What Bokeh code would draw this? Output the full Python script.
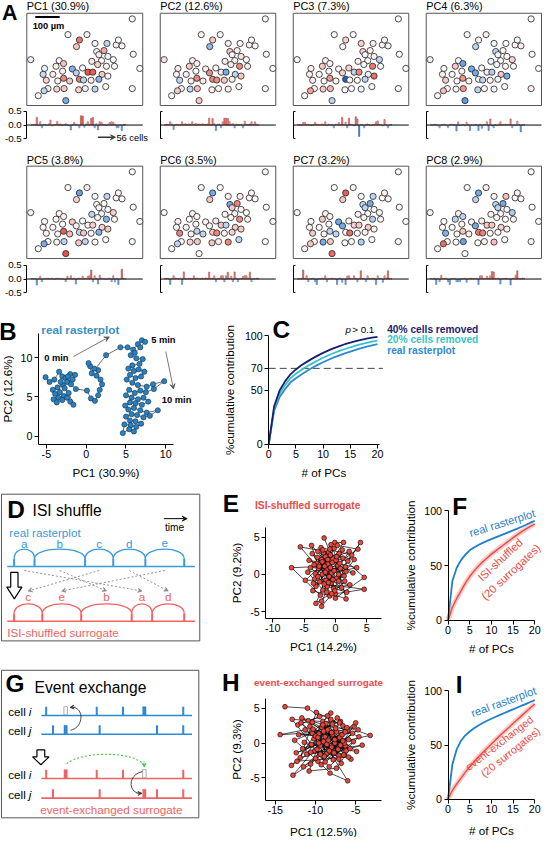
import numpy as np
from bokeh.plotting import figure
from bokeh.layouts import row, column
from bokeh.models import (Range1d, Label, Arrow, VeeHead, FixedTicker, LinearAxis,
                          LinearColorMapper, NumeralTickFormatter, ColumnDataSource)
from bokeh.transform import transform
from bokeh.embed import file_html
from bokeh.resources import INLINE

# ============================ DATA ============================
# Panel A: cell positions (um) and loadings of each cell on PC1..PC8
cell_x_um = [433, 169, 247, 216, 280, 204, 329, 367, 391, 376,
             287, 317, 16, 437, 133, 151, 120, 296, 333, 307,
             267, 355, 73, 187, 229, 291, 327, 464, 203, 251,
             271, 67, 107, 309, 333, 151, 216, 233, 264, 296,
             176, 80, 127, 324, 433, 87, 123, 153, 213, 240,
             280, 71, 47, 160, 360, 147]
cell_y_um = [353, 289, 289, 267, 253, 240, 253, 247, 243, 267,
             220, 224, 187, 209, 183, 171, 160, 207, 200, 183,
             180, 187, 151, 149, 153, 167, 160, 151, 133, 136,
             136, 127, 127, 127, 120, 111, 107, 104, 103, 107,
             100, 103, 100, 77, 69, 69, 67, 69, 64, 69,
             67, 60, 40, 20, 160, 140]
pc_var = [30.9, 12.6, 7.3, 6.3, 3.8, 3.5, 3.2, 2.9]
load_pc1 = [0.02, 0.01, 0.03, 0.28, -0.02, 0.12, -0.10, 0.03, 0.02, -0.01, 0.04, 0.18, -0.03, 0.01, 0.02, 0.13, 0.03, 0.04, -0.02, 0.02,
            0.05, 0.01, -0.03, -0.18, 0.02, 0.10, 0.03, 0.01, -0.10, 0.34, 0.33, -0.08, 0.04, 0.12, 0.02, 0.25, 0.28, -0.10, 0.05, -0.18,
            0.12, 0.10, 0.03, 0.02, -0.02, 0.04, 0.10, 0.12, 0.10, 0.03, -0.10, -0.10, 0.01, -0.20, 0.02, 0.03]
load_pc2 = [0.02, 0.03, 0.01, 0.12, 0.04, -0.16, 0.02, 0.03, 0.01, 0.02, 0.12, 0.03, 0.05, 0.02, 0.04, 0.03, 0.12, 0.02, 0.06, 0.03,
            0.04, 0.02, 0.05, 0.03, 0.02, 0.04, 0.25, 0.01, 0.24, 0.05, -0.20, 0.03, 0.04, -0.10, 0.12, 0.25, 0.25, 0.24, 0.12, 0.03,
            0.05, -0.10, 0.04, 0.02, 0.01, 0.03, -0.10, 0.14, 0.03, 0.02, 0.04, 0.12, 0.02, 0.12, 0.03, 0.01]
load_pc3 = [0.01, 0.02, -0.01, 0.10, 0.10, 0.02, 0.03, 0.01, -0.02, 0.02, 0.10, 0.03, 0.02, 0.01, 0.04, 0.02, 0.12, -0.02, 0.03, 0.01,
            0.02, -0.10, 0.03, 0.02, 0.10, 0.01, 0.28, 0.02, 0.10, -0.10, 0.25, 0.03, 0.02, -0.03, 0.30, 0.22, -0.42, 0.02, 0.01, -0.10,
            0.03, 0.04, 0.02, -0.02, 0.01, 0.03, 0.12, 0.15, 0.02, 0.01, -0.03, 0.20, 0.02, -0.10, 0.01, 0.02]
load_pc4 = [0.02, 0.01, 0.03, 0.02, -0.02, -0.10, 0.01, 0.02, 0.03, -0.01, -0.10, 0.02, 0.03, 0.01, 0.02, -0.22, 0.12, -0.02, 0.01, 0.02,
            -0.03, 0.10, 0.02, -0.20, 0.01, -0.02, 0.02, 0.01, -0.20, 0.03, -0.12, 0.02, 0.01, 0.12, -0.20, 0.22, -0.03, -0.10, 0.02, -0.02,
            0.03, 0.12, 0.01, 0.02, 0.03, 0.01, 0.02, 0.22, -0.10, 0.01, -0.02, 0.14, 0.02, -0.25, 0.01, 0.02]
load_pc5 = [0.02, 0.01, 0.02, -0.22, 0.01, 0.10, -0.10, 0.02, 0.01, 0.03, 0.02, 0.01, 0.03, -0.01, 0.02, 0.03, 0.02, 0.01, 0.02, -0.02,
            -0.10, 0.10, 0.02, 0.12, 0.01, 0.03, -0.18, 0.02, 0.03, 0.02, 0.10, 0.01, 0.02, 0.10, 0.12, 0.33, -0.10, 0.12, 0.02, -0.18,
            0.14, 0.03, 0.02, 0.01, -0.02, 0.02, 0.03, -0.10, 0.12, -0.10, 0.02, -0.20, 0.01, 0.36, 0.02, 0.01]
load_pc6 = [0.02, 0.03, 0.01, -0.20, 0.02, 0.12, 0.03, 0.02, 0.01, 0.03, -0.20, 0.26, 0.02, 0.01, 0.03, 0.02, 0.01, 0.12, 0.02, 0.03,
            0.02, 0.01, 0.03, 0.02, 0.04, 0.02, 0.25, 0.01, 0.03, 0.12, -0.10, 0.02, 0.03, 0.12, 0.12, -0.10, 0.12, 0.25, 0.02, 0.10,
            -0.10, 0.26, 0.03, -0.10, 0.01, 0.02, 0.10, 0.12, 0.12, 0.03, 0.25, -0.10, 0.02, 0.01, 0.03, 0.02]
load_pc7 = [0.02, 0.01, 0.03, 0.33, 0.02, 0.12, -0.10, 0.01, 0.02, 0.03, -0.10, -0.20, 0.02, 0.01, 0.03, 0.02, 0.12, -0.10, 0.02, 0.01,
            0.03, 0.02, 0.01, -0.20, 0.02, 0.03, -0.12, 0.01, -0.20, 0.10, 0.12, 0.02, 0.01, 0.12, 0.03, -0.10, 0.02, 0.30, 0.01, 0.03,
            -0.10, 0.12, 0.02, 0.01, 0.03, 0.02, -0.20, 0.12, 0.01, 0.02, -0.12, 0.12, 0.03, 0.30, 0.02, 0.01]
load_pc8 = [0.02, 0.01, 0.03, -0.20, 0.02, -0.10, 0.14, 0.01, 0.02, 0.03, -0.10, -0.20, 0.02, 0.01, 0.03, -0.10, -0.10, -0.10, 0.02, 0.01,
            0.03, -0.12, 0.01, 0.02, 0.03, 0.02, 0.01, 0.02, -0.20, 0.12, 0.12, 0.01, 0.02, 0.10, 0.03, 0.12, 0.28, 0.26, 0.02, 0.01,
            0.03, -0.18, 0.02, 0.01, 0.03, 0.02, 0.01, -0.22, 0.02, 0.03, 0.14, 0.30, 0.02, 0.01, 0.03, 0.02]
loadings = [load_pc1, load_pc2, load_pc3, load_pc4, load_pc5, load_pc6, load_pc7, load_pc8]
scale_bar_um = 100

# Panel B: trajectory of the real rasterplot in PC1/PC2 space
traj_pc1 = [-5.1, -4.6, -4.0, -3.4, -3.0, -2.6, -2.0, -1.4, -1.7, -2.4, -2.9, -3.6, -4.2, -3.9, -3.3, -2.8, -3.5, -4.1, -3.7, -3.0,
            -2.4, -2.0, -1.6, -2.2, -2.7, -3.2, -2.3, -1.9, -1.3,
            0.1, 0.6, 1.1, 1.5, 1.7, 2.0, 1.8, 1.3, 1.5, 1.0, 0.5, 0.3, 0.7, 2.5, 4.3,
            5.2, 5.9, 6.5, 7.0, 7.4, 6.8, 6.1, 5.6, 6.3, 7.1, 6.7, 5.8, 5.3, 6.0, 6.6, 7.3, 6.9, 6.2, 5.5, 5.1,
            5.8, 6.5, 7.6, 8.4, 9.8, 8.5, 7.5, 6.8, 6.1, 5.4, 5.0, 5.7, 6.5, 7.2, 7.8, 7.0, 6.2, 5.5, 4.9, 5.3,
            6.0, 6.8, 7.6, 9.0, 8.0, 7.2, 6.4, 5.7, 5.0, 5.5, 6.2, 6.9, 6.3, 5.6, 4.8, 4.6, 5.4, 6.0]
traj_pc2 = [7.5, 6.9, 7.2, 8.2, 7.6, 7.4, 7.9, 7.8, 7.2, 6.9, 6.5, 6.2, 5.9, 5.4, 5.6, 5.1, 4.9, 4.7, 4.3, 4.6,
            4.9, 4.4, 4.0, 5.5, 6.1, 6.9, 7.6, 6.6, 6.0,
            5.8, 4.8, 4.5, 5.2, 5.9, 6.6, 7.2, 7.7, 8.4, 8.6, 8.9, 9.3, 8.0, 10.3, 11.3,
            11.3, 11.0, 11.7, 12.2, 12.0, 11.3, 10.6, 10.3, 9.9, 9.8, 9.2, 9.0, 8.6, 8.3, 8.5, 8.2, 7.6, 7.4, 7.8, 7.2,
            6.8, 6.5, 6.3, 6.6, 7.0, 6.0, 5.6, 5.8, 5.5, 5.9, 5.2, 4.9, 4.7, 4.9, 4.4, 4.0, 4.2, 4.3, 3.9, 3.4,
            3.6, 3.3, 3.0, 3.3, 2.6, 2.4, 2.7, 2.8, 2.5, 2.0, 1.9, 1.6, 1.2, 1.4, 1.5, 0.4, 0.9, 0.6]

# Panel C: cumulative contribution (%) vs number of PCs
n_pcs = list(range(0, 21))
cum_real = [0, 30.9, 43.5, 50.8, 57.1, 60.9, 64.4, 67.6, 70.5, 73.2, 75.7, 78.0, 80.1, 82.0, 83.8, 85.5, 87.1, 88.6, 90.0, 91.3, 92.5]
cum_20 = [0, 33.0, 46.5, 54.5, 61.0, 65.0, 68.5, 71.7, 74.6, 77.3, 79.8, 82.1, 84.2, 86.1, 87.9, 89.5, 91.0, 92.4, 93.6, 94.7, 95.6]
cum_40 = [0, 35.0, 49.5, 58.0, 64.5, 69.0, 72.8, 76.0, 79.0, 81.8, 84.3, 86.6, 88.7, 90.6, 92.3, 93.8, 95.2, 96.4, 97.5, 98.4, 99.2]
threshold = 70

# Panel D: ISI shuffle schematic
real_spikes = [14, 35, 87, 116, 149, 189]
isi_labels = ["a", "b", "c", "d", "e"]
shuffled_order = ["c", "e", "b", "a", "d"]

# Panel E: ISI-shuffled surrogate trajectory
isi_pc1 = [-1.8, -0.4, -3.0, -0.1, 1.3, -1.4, -3.7, -0.7, 2.6, -2.3, 0.4, -4.4, -2.0, 1.7, -1.1, -5.6, -2.7, 0.2, 4.0, 2.0,
           -1.6, -3.3, -0.2, -2.5, 1.0, -1.2, -4.2, -0.6, 3.4, -2.2, 0.6, -3.6, -0.9, 1.5, -2.1, 3.6, 0.3, -2.9, -0.3, 2.3,
           -1.5, -4.0, 0.8, -0.8, -2.4, -7.0, -1.7, 0.0, 4.6, 1.2, -2.8, -0.5, -1.3, 1.8, -3.4, 0.5, 3.0, -1.9, -1.0, -3.1,
           1.1, -0.2, -3.8, -1.4, 1.7, 0.1, -2.6, -0.7, 1.4, -1.8, 4.6, 0.0, -1.2, -4.8, -0.4, -2.2, -2.2, -0.1, -3.1, -0.8,
           2.8, 0.7, -2.0, -3.2, -0.6, 1.6, -1.6, -2.8, 0.2, 2.2, -1.1, -3.5, -2.1, 0.5, -0.9]
isi_pc2 = [4.9, 2.1, 1.5, 4.3, 4.3, 0.6, 2.8, -1.2, 2.6, 3.6, 1.2, 0.3, -2.1, 0.4, 3.0, 3.7, 0.8, -0.5, 4.3, 1.8,
           2.4, -0.6, 3.5, -1.0, -1.8, 1.4, 1.9, 0.2, 0.9, 2.0, 2.8, -2.2, -2.9, -0.9, 0.0, 3.4, 3.9, 2.3, -1.9, -1.4,
           -0.8, 0.9, 0.8, 2.6, -2.8, 0.9, 1.1, -3.2, -0.4, 2.2, 3.1, 1.6, -1.6, -2.4, 1.3, -0.9, 2.0, 2.9, -0.3, -1.6,
           3.3, 0.5, 3.9, -2.4, -3.3, 1.9, 1.1, 4.0, -0.2, -1.3, -2.0, -2.6, 2.0, -0.8, -0.7, -3.6, -4.3, -2.2, -3.9, 0.9,
           0.2, 1.5, 3.3, 0.1, -2.6, 1.0, 0.3, -0.3, 2.4, 3.1, -1.1, -1.2, 1.7, 0.0, 3.4]

# Panel F: cumulative contribution, real vs ISI-shuffled
F_real = [0, 36.0, 48.0, 55.0, 60.0, 64.0, 66.5, 68.8, 70.8, 72.6, 74.2, 75.8, 77.4, 79.0, 80.6, 82.2, 83.8, 85.5, 87.3, 89.2, 91.0]
F_shuffled = [0, 12.0, 20.0, 27.0, 34.0, 40.0, 45.0, 49.5, 53.5, 57.0, 60.5, 63.5, 66.5, 69.5, 72.5, 75.5, 78.3, 81.0, 83.5, 85.8, 88.0]

# Panel G: event exchange schematic
cell_i_spikes = [47, 99, 126, 148, 188]
cell_j_spikes = [54, 67, 102, 161, 188]
exch_from_i = 148
exch_from_j = 67

# Panel H: event-exchanged surrogate trajectory
ee_pc1 = [-13.8, -11.0, -9.5, -12.2, -8.1, -10.4, -6.9, -9.0, -11.6, -7.4, -5.2, -8.6, -10.9, -6.3, -9.7, -12.6, -7.9, -4.6, -8.3, -10.1,
          -6.0, -14.4, -11.3, -7.1, -9.2, -5.6, -8.8, -12.8, -10.6, -7.6, -3.2, -6.6, -9.9, -11.9, -8.0, -5.9, -9.4, -13.0, -7.3, -10.2,
          -6.8, -8.5, -4.9, -11.4, -7.8, -9.1, -6.2, -10.7, -8.9, -5.4, -12.1, -7.0, -9.6, -6.0, -8.2, -10.0, -7.5, -11.7, -6.4, -8.7,
          -9.8, -5.0, -7.2, -10.5, -8.4, -12.4, -6.7, -9.3, -7.7, -4.2, -11.1, -8.1, -6.1, -9.0, -10.8, -7.4, -5.7, -8.6, -11.8, -9.6,
          -6.5, -7.9, -10.3, -5.3, -8.8, -12.9, -7.0, -9.4, -6.3, -10.0, -8.3, -4.7, -11.5, -7.6, -9.1, -6.9, -8.0, -10.6, -5.9, -12.3,
          -8.5, -7.1, -9.7, -6.6, -10.4]
ee_pc2 = [5.2, 5.0, 3.8, 2.6, 4.3, 1.4, 3.1, 0.2, -0.8, 1.6, 2.4, -1.5, 3.2, -0.4, -2.6, 0.4, 2.7, 0.9, -3.4, -1.1,
          1.8, 1.2, 1.9, -1.8, 2.2, -2.3, 0.9, -4.6, -3.0, 0.0, 1.1, 2.5, 4.4, -2.1, -0.6, 0.5, -0.4, -3.2, 3.6, 0.6,
          -2.9, 1.9, -1.2, 0.1, -2.4, 3.1, -1.1, 2.4, -1.9, 1.4, 1.2, 0.8, 1.3, -5.4, -4.3, -2.2, 2.1, 3.6, 0.0, 2.8,
          -0.9, 2.9, -0.9, -0.2, 0.4, -1.4, 1.2, -3.1, -1.4, -0.3, -1.6, 3.4, 2.2, 1.7, -4.0, -3.6, -0.8, -0.2, 2.9, 0.0,
          -1.7, 1.2, 2.0, 0.2, -2.7, 3.4, 2.9, -1.6, 1.6, 1.0, -1.1, 1.9, -3.4, 0.5, 2.6, -0.3, 1.5, -1.3, -2.0, -2.6,
          3.9, -2.3, 0.8, 0.3, 3.0]

# Panel I: cumulative contribution, real vs event-exchanged
I_real = [0, 32.0, 46.0, 54.0, 59.0, 62.5, 65.5, 68.0, 70.3, 72.4, 74.3, 76.1, 77.9, 79.6, 81.3, 83.0, 84.7, 86.4, 88.1, 89.8, 91.5]
I_exchanged = [0, 8.0, 14.0, 19.5, 25.0, 30.0, 34.5, 39.0, 43.0, 47.0, 51.0, 55.0, 58.8, 62.5, 66.2, 70.0, 73.6, 77.2, 80.8, 84.4, 88.0]

# ============================ STYLE / LAYOUT ============================
SX = 542 / 558
SY = 837 / 853
FS = 0.975
FONT = "Liberation Sans"
BLUE = "#2f88d2"
BLUE_D = "#3a9ad9"
RED = "#ee4a44"
RED_D = "#f26262"
PT_RED = "#e8473e"
MAP_W, MAP_H = 476, 376      # extent of the imaged field (um)


def X(v):
    return int(round(v * SX))


def Y(v):
    return int(round(v * SY))


def fpx(n):
    return f"{n * FS:.1f}px"


class Panel:
    """Figure whose frame fills the whole canvas; 'frame'/'xr'/'yr' fix the data<->pixel mapping."""

    def __init__(self, box, frame, xr, yr):
        l, t, r, b = box
        self.frame, self.xr, self.yr = frame, xr, yr
        xs, ys = self.d(l, b)
        xe, ye = self.d(r, t)
        p = figure(width=X(r) - X(l), height=Y(b) - Y(t),
                   x_range=Range1d(xs, xe), y_range=Range1d(ys, ye),
                   x_axis_type=None, y_axis_type=None,
                   output_backend="svg", toolbar_location=None,
                   min_border_left=0, min_border_right=0, min_border_top=0, min_border_bottom=0)
        p.outline_line_color = None
        p.background_fill_color = "white"
        p.border_fill_color = "white"
        self.p = p

    def d(self, px, py):
        fl, ft, fr, fb = self.frame
        x0, x1 = self.xr
        y0, y1 = self.yr
        return (x0 + (px - fl) / (fr - fl) * (x1 - x0),
                y0 + (fb - py) / (fb - ft) * (y1 - y0))


def lab(P, px, py, text, size, color="black", style="normal", align="left",
        baseline="middle", angle=0):
    x, y = P.d(px, py)
    P.p.add_layout(Label(x=x, y=y, text=text, text_font=FONT, text_font_size=fpx(size),
                         text_color=color, text_font_style=style, text_align=align,
                         text_baseline=baseline, angle=np.deg2rad(angle)))


def arrow(P, px0, py0, px1, py1, color="#333", width=0.9, head=5, dash="solid"):
    x0, y0 = P.d(px0, py0)
    x1, y1 = P.d(px1, py1)
    P.p.add_layout(Arrow(end=VeeHead(size=head, line_color=color, fill_color=color, line_width=0.8),
                         x_start=x0, y_start=y0, x_end=x1, y_end=y1,
                         line_color=color, line_width=width, line_dash=dash))


def add_axis(P, side, ticks, loc, bounds, label=None, fmt="0", ts=11, ls=12, lstand=4,
             tick_out=4, tick_in=0, show_labels=True, mstand=2):
    ax = LinearAxis(ticker=FixedTicker(ticks=ticks), formatter=NumeralTickFormatter(format=fmt),
                    fixed_location=loc, bounds=bounds)
    if label:
        ax.axis_label = label
    ax.axis_label_text_font = FONT
    ax.axis_label_text_font_size = fpx(ls)
    ax.axis_label_text_font_style = "normal"
    ax.axis_label_text_color = "black"
    ax.axis_label_standoff = lstand
    ax.major_label_text_font = FONT
    ax.major_label_text_font_size = fpx(ts)
    ax.major_label_text_color = "black"
    ax.major_label_standoff = mstand
    ax.major_tick_out = tick_out
    ax.major_tick_in = tick_in
    ax.minor_tick_out = 0
    ax.minor_tick_in = 0
    ax.axis_line_color = "black"
    ax.major_tick_line_color = "black"
    if not show_labels:
        ax.major_label_overrides = {t: "" for t in ticks}
    P.p.add_layout(ax, side)


# diverging palette (blue - white - red)
anchors = [(-0.4, (31, 95, 207)), (-0.2, (116, 170, 230)), (0.0, (255, 255, 255)),
           (0.2, (242, 161, 155)), (0.4, (226, 58, 48))]
palette = []
for v in np.linspace(-0.4, 0.4, 161):
    for (a, ca), (b, cb) in zip(anchors[:-1], anchors[1:]):
        if a <= v <= b + 1e-9:
            f = (v - a) / (b - a)
            c = [int(round(ca[i] + f * (cb[i] - ca[i]))) for i in range(3)]
            palette.append("#%02x%02x%02x" % tuple(c))
            break
mapper = LinearColorMapper(palette=palette, low=-0.4, high=0.4)

# ---------------- Panel A ----------------
bx = [0, 155, 292, 429, 558]
L = [27, 164, 301, 438]
MW = 119
map_rows = [(0, 108, 13, 107, 5.5), (150, 265, 169, 263, 163)]
bar_rows = [(108, 150, 113, 141), (265, 305, 270, 298)]
bar_x = list(range(1, len(cell_x_um) + 1))
BAR_XR = (-1.9, 66.3)

band_cols = [[], []]
for j in range(8):
    r, k = divmod(j, 4)
    t0, t1, ft, fb, ty = map_rows[r]
    PM = Panel((bx[k], t0, bx[k + 1], t1), (L[k], ft, L[k] + MW, fb), (0, MAP_W), (0, MAP_H))
    PM.p.quad(left=[0], right=[MAP_W], bottom=[0], top=[MAP_H], fill_color=None,
              line_color="#555555", line_width=1)
    src = ColumnDataSource(dict(x=cell_x_um, y=cell_y_um, v=loadings[j]))
    PM.p.scatter("x", "y", source=src, size=6.2, fill_color=transform("v", mapper),
                 line_color="#222222", line_width=0.8)
    lab(PM, L[k], ty, f"PC{j + 1} ({pc_var[j]}%)", 11.2)
    if j == 0:
        lab(PM, 9.5, 13, "A", 22, style="bold", align="center")
        x0, y0 = PM.d(35.7, 16.7)
        PM.p.segment(x0=[x0], y0=[y0], x1=[x0 + scale_bar_um], y1=[y0], line_color="black", line_width=2)
        lab(PM, 33, 26, "100 \u00b5m", 9.5, style="bold")

    b0, b1, bft, bfb = bar_rows[r]
    PBr = Panel((bx[k], b0, bx[k + 1], b1), (L[k], bft, L[k] + MW, bfb), BAR_XR, (-0.5, 0.5))
    vals = loadings[j]
    lc = ["#b04a48" if v > 0 else "#3f72ad" for v in vals]
    bsrc = ColumnDataSource(dict(x=bar_x, top=vals, v=vals, lc=lc))
    PBr.p.vbar(x="x", top="top", bottom=0, width=0.72, source=bsrc,
               fill_color=transform("v", mapper), line_color="lc", line_width=0.6)
    PBr.p.segment(x0=[BAR_XR[0]], y0=[0], x1=[BAR_XR[1]], y1=[0], line_color="black", line_width=1)
    if k == 0:
        add_axis(PBr, "left", [-0.5, 0, 0.5], BAR_XR[0], (-0.5, 0.5), fmt="0.0", ts=10, tick_out=3)
    else:
        add_axis(PBr, "left", [-0.5, 0.5], BAR_XR[0], (-0.5, 0.5), fmt="0.0", ts=10, tick_out=0,
                 tick_in=2, show_labels=False)
    if j == 0:
        arrow(PBr, 100, 139.5, 118, 139.5, color="#333333", width=1.4, head=5)
        lab(PBr, 119, 140, f"{len(cell_x_um)} cells", 9.5)
    band_cols[r].append(column(PM.p, PBr.p))

# ---------------- Panel B ----------------
PB = Panel((0, 305, 215, 490), (39, 324, 202.8, 452), (-6, 14), (-1, 15))
PB.p.line(traj_pc1, traj_pc2, line_color="#333333", line_width=0.7)
PB.p.scatter(traj_pc1, traj_pc2, size=5.2, fill_color="#2b80bf", line_color="#143550", line_width=0.6)
add_axis(PB, "below", [-5, 0, 5, 10], -1, (-6, 11), label=f"PC1 ({pc_var[0]}%)")
add_axis(PB, "left", [0, 5, 10], -6, (-1, 13), label=f"PC2 ({pc_var[1]}%)")
lab(PB, 7.5, 338, "B", 25, style="bold", align="center")
lab(PB, 42, 335, "real rasterplot", 12, color="#3a8fc8", style="bold")
lab(PB, 45, 364, "0 min", 9.5, style="bold")
arrow(PB, 75, 363, 112, 343, color="#555555", width=0.8, head=5)
lab(PB, 155, 346, "5 min", 9.5, style="bold")
arrow(PB, 170, 358, 178, 396, color="#555555", width=0.8, head=5)
lab(PB, 166, 407, "10 min", 9.5, style="bold")

# ---------------- Panel C ----------------
PCc = Panel((215, 305, 558, 490), (276, 326.6, 505.6, 452), (0, 41), (0, 114))
PCc.p.segment(x0=[0], y0=[threshold], x1=[21], y1=[threshold], line_color="#444444",
              line_width=1, line_dash="7 4")
PCc.p.line(n_pcs, cum_real, line_color=BLUE, line_width=1.8)
PCc.p.line(n_pcs, cum_20, line_color="#35c4c4", line_width=1.8)
PCc.p.line(n_pcs, cum_40, line_color="#1c1c70", line_width=1.8)
add_axis(PCc, "below", [0, 5, 10, 15, 20], 0, (0, 20.3), label="# of PCs")
add_axis(PCc, "left", [0, 50, threshold, 100], 0, (0, 100), label="%cumulative contribution", lstand=6)
lab(PCc, 289, 336, "C", 25, style="bold", align="center")
lab(PCc, 355, 335, "p", 10, style="italic")
lab(PCc, 362, 335, "> 0.1", 10)
lab(PCc, 398, 335, "40% cells removed", 10.5, color="#1c1c70", style="bold")
lab(PCc, 398, 346, "20% cells removed", 10.5, color="#35c4c4", style="bold")
lab(PCc, 398, 357, "real rasterplot", 10.5, color=BLUE, style="bold")

# ---------------- Panel D ----------------
PD = Panel((0, 490, 215, 670), (1, 503, 205, 653), (1, 205), (653, 503))
PD.p.quad(left=[1], right=[205], bottom=[653], top=[503], fill_color=None, line_color="#555555", line_width=1)
isi = dict(zip(isi_labels, np.diff(real_spikes)))
sur_spikes = [real_spikes[0]]
for l in shuffled_order:
    sur_spikes.append(sur_spikes[-1] + isi[l])


def raster(P, times, base, top, color, x_from, x_to, arcs=True, names=None, name_y=None):
    P.p.segment(x0=[x_from], y0=[base], x1=[x_to], y1=[base], line_color=color, line_width=1.6)
    P.p.segment(x0=times, y0=[base] * len(times), x1=times, y1=[top] * len(times),
                line_color=color, line_width=2)
    if arcs:
        a0, a1 = times[:-1], times[1:]
        n = len(a0)
        P.p.bezier(x0=a0, y0=[top] * n, x1=a1, y1=[top] * n, cx0=a0, cy0=[top - 13] * n,
                   cx1=a1, cy1=[top - 13] * n, line_color=color, line_width=1.3)
    if names:
        mids = [(a + b) / 2 for a, b in zip(times[:-1], times[1:])]
        for m, nm in zip(mids, names):
            lab(P, m, name_y, nm, 12, color=color, align="center")


raster(PD, real_spikes, 577, 569, BLUE_D, 7, 200, names=isi_labels, name_y=553)
raster(PD, sur_spikes, 633, 625, RED_D, 7, 200, names=shuffled_order, name_y=608)
mid_real = {l: (a + b) / 2 for l, a, b in zip(isi_labels, real_spikes[:-1], real_spikes[1:])}
mid_sur = {l: (a + b) / 2 for l, a, b in zip(shuffled_order, sur_spikes[:-1], sur_spikes[1:])}
for l in isi_labels:
    arrow(PD, mid_real[l], 581, mid_sur[l], 602, color="#888888", width=0.9, head=4, dash="2 2")
lab(PD, 16, 518.5, "D", 25, style="bold", align="center")
lab(PD, 33, 520, "ISI shuffle", 16)
arrow(PD, 168, 528, 192, 528, color="black", width=1, head=5)
lab(PD, 179, 537.5, "time", 10.5, align="center")
lab(PD, 9, 542, "real rasterplot", 12, color=BLUE_D)
lab(PD, 7, 644, "ISI-shuffled surrogate", 12, color=RED_D)
PD.p.patch([10.5, 18, 18, 22, 14.25, 6.5, 10.5, 10.5], [583, 583, 598, 598, 610, 598, 598, 583],
           fill_color="white", line_color="black", line_width=1.2)

# ---------------- Panel E ----------------
PE = Panel((215, 490, 405, 670), (273, 537, 393, 630), (-11.13, 7.42), (-5.92, 6.32))
PE.p.line(isi_pc1, isi_pc2, line_color="black", line_width=0.7)
PE.p.scatter(isi_pc1, isi_pc2, size=4.8, fill_color=PT_RED, line_color="black", line_width=0.6)
add_axis(PE, "below", [-10, -5, 0, 5], -5.92, (-11.13, 7.42), label="PC1 (14.2%)")
add_axis(PE, "left", [-5, 0, 5], -11.13, (-5.92, 6.32), label="PC2 (9.2%)")
lab(PE, 237, 512, "E", 25, style="bold", align="center")
lab(PE, 262, 515, "ISI-shuffled surrogate", 10.5, color="#e84a4a", style="bold")

# ---------------- Panel F ----------------
PF = Panel((405, 490, 558, 670), (461, 506.6, 556.7, 632), (0, 21.5), (0, 112))
PF.p.line(n_pcs, F_shuffled, line_color="#f08a86", line_width=5, line_alpha=0.45)
PF.p.line(n_pcs, F_shuffled, line_color=RED, line_width=1.4)
PF.p.line(n_pcs, F_real, line_color="#1f7fcc", line_width=1.8)
add_axis(PF, "below", [0, 5, 10, 15, 20], 0, (0, 20), label="# of PCs")
add_axis(PF, "left", [0, 50, 100], 0, (0, 100), label="%cumulative contribution", lstand=5)
lab(PF, 473, 516, "F", 25, style="bold", align="center")
lab(PF, 516.5, 532.5, "real rasterplot", 11.5, color="#1f7fcc", align="center", angle=17.4)
lab(PF, 514.5, 570, "ISI-shuffled", 11.5, color=RED, align="center", angle=43)
lab(PF, 525.5, 582.5, "(20 surrogates)", 11.5, color=RED, align="center", angle=43)

# ---------------- Panel G ----------------
PG = Panel((0, 670, 215, 853), (1, 683, 204, 833), (1, 204), (833, 683))
PG.p.quad(left=[1], right=[204], bottom=[833], top=[683], fill_color=None, line_color="#555555", line_width=1)


def cell_row(P, times, thick, opened, base, color, name, ly):
    normal = [t for t in times if t not in thick]
    raster(P, normal, base, base - 9, color, 42, 197, arcs=False)
    for t in thick:
        P.p.quad(left=[t - 1.7], right=[t + 1.7], top=[base - 9], bottom=[base], fill_color=color,
                 line_color=color, line_width=0.5)
    for t in opened:
        P.p.quad(left=[t - 1.8], right=[t + 1.8], top=[base - 9], bottom=[base - 0.8], fill_color="white",
                 line_color="#999999", line_width=0.8)
    lab(P, 8, ly, "cell", 12)
    lab(P, 29, ly, name, 12, style="italic")


sur_i = sorted([t for t in cell_i_spikes if t != exch_from_i] + [exch_from_j])
sur_j = sorted([t for t in cell_j_spikes if t != exch_from_j] + [exch_from_i])
cell_row(PG, cell_i_spikes, [exch_from_i], [exch_from_j], 729, BLUE, "i", 725)
cell_row(PG, cell_j_spikes, [exch_from_j], [], 748, BLUE, "j", 744)
cell_row(PG, sur_i, [exch_from_j], [exch_from_i], 793, RED_D, "i", 789)
cell_row(PG, sur_j, [exch_from_i], [], 813, RED_D, "j", 809)
# curved arrows
PG.p.bezier(x0=[72], y0=[744], x1=[74], y1=[720.5], cx0=[86], cy0=[741], cx1=[86], cy1=[721],
            line_color="#333333", line_width=0.9)
arrow(PG, 77.5, 720.2, 71.5, 720.8, color="#333333", width=0.5, head=4)
PG.p.bezier(x0=[146], y0=[786], x1=[143], y1=[808], cx0=[131], cy0=[789], cx1=[131], cy1=[807],
            line_color="#333333", line_width=0.9)
arrow(PG, 140, 808.3, 145.5, 808, color="#333333", width=0.5, head=4)
PG.p.bezier(x0=[68], y0=[778], x1=[148], y1=[779], cx0=[85], cy0=[765], cx1=[135], cy1=[765],
            line_color="#44c444", line_width=1.1, line_dash="2 2")
arrow(PG, 147.5, 775, 148, 781.5, color="#44c444", width=0.5, head=4)
lab(PG, 15, 696, "G", 25, style="bold", align="center")
lab(PG, 35, 700, "Event exchange", 16)
lab(PG, 114, 825, "event-exchanged surrogate", 12, color=RED_D, align="center")
PG.p.patch([37.5, 45.5, 45.5, 50, 41.5, 33, 37.5, 37.5], [764, 764, 771, 771, 779, 771, 771, 764],
           fill_color="white", line_color="black", line_width=1.2)

# ---------------- Panel H ----------------
PH = Panel((215, 670, 405, 853), (273, 712, 393, 815), (-16.2, -1.75), (-8.17, 6.34))
PH.p.line(ee_pc1, ee_pc2, line_color="black", line_width=0.7)
PH.p.scatter(ee_pc1, ee_pc2, size=4.8, fill_color=PT_RED, line_color="black", line_width=0.6)
add_axis(PH, "below", [-15, -10, -5], -8.17, (-16.2, -1.75), label="PC1 (12.5%)", lstand=7)
add_axis(PH, "left", [-5, 0, 5], -16.2, (-8.17, 6.34), label="PC2 (9.3%)")
lab(PH, 237, 695, "H", 25, style="bold", align="center")
lab(PH, 261, 695, "event-exchanged surrogate", 10.2, color="#e84a4a", style="bold")

# ---------------- Panel I ----------------
PI = Panel((405, 670, 558, 853), (461, 686.4, 556.7, 814), (0, 21.5), (0, 116))
PI.p.line(n_pcs, I_exchanged, line_color="#f08a86", line_width=5, line_alpha=0.45)
PI.p.line(n_pcs, I_exchanged, line_color=RED, line_width=1.4)
PI.p.line(n_pcs, I_real, line_color="#1f7fcc", line_width=1.8)
add_axis(PI, "below", [0, 5, 10, 15, 20], 0, (0, 20), label="# of PCs", lstand=7)
add_axis(PI, "left", [0, 50, 100], 0, (0, 100), label="%cumulative contribution", lstand=5)
lab(PI, 472.5, 697, "I", 25, style="bold", align="center")
lab(PI, 518, 715, "real rasterplot", 11.5, color="#1f7fcc", align="center", angle=20)
lab(PI, 513.5, 757, "event-exchanged", 11, color=RED, align="center", angle=37.6)
lab(PI, 525, 766, "(20 surrogates)", 11, color=RED, align="center", angle=38.7)

layout = column(row(*band_cols[0]), row(*band_cols[1]),
                row(PB.p, PCc.p), row(PD.p, PE.p, PF.p), row(PG.p, PH.p, PI.p))

open("out.html", "w").write(file_html(layout, INLINE, title="PCA figure"))
